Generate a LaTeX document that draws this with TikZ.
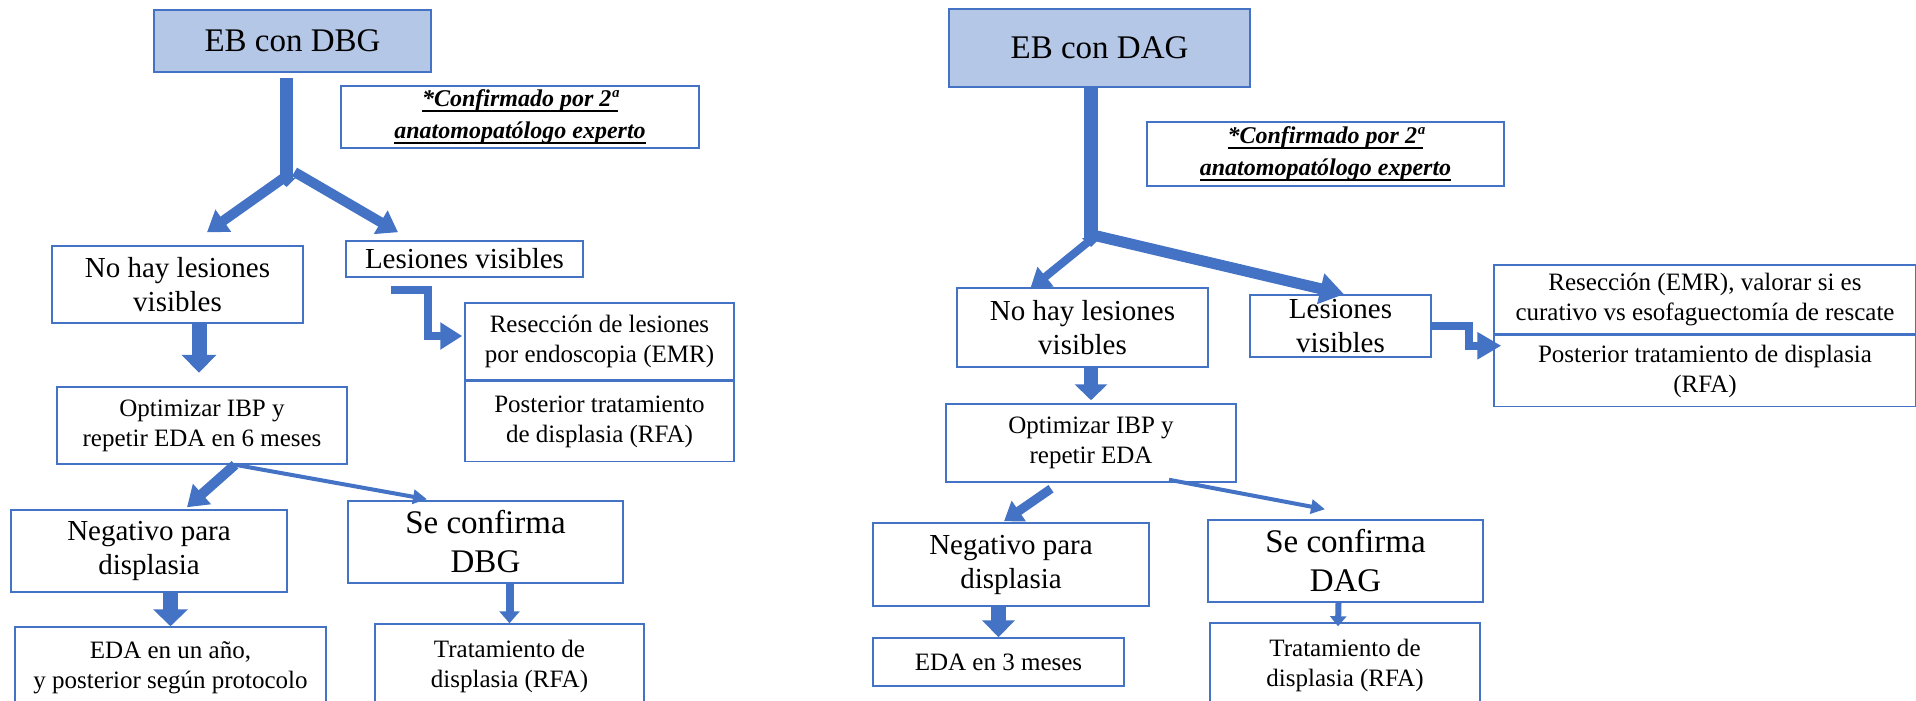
\documentclass[tikz,border=0pt]{standalone}
\usepackage{fontspec}
\setmainfont{Liberation Serif}
\usetikzlibrary{arrows.meta,positioning}
\definecolor{azul}{HTML}{4472C4}
\definecolor{celeste}{HTML}{B4C7E7}
\newcommand{\subrayar}[1]{\setbox0\hbox{#1}\rlap{\rule[-6pt]{\wd0}{2pt}}\box0}

\begin{document}
\begin{tikzpicture}[x=1pt,y=-1pt,every node/.style={align=center,inner sep=0pt},caja/.style={draw=azul,line width=1.5pt,fill=white},titulo/.style={caja,fill=celeste},grande/.style={font=\fontsize{33}{39}\selectfont},medio/.style={font=\fontsize{29}{34}\selectfont},chico/.style={font=\fontsize{25}{30}\selectfont},nota/.style={caja,font=\fontsize{24}{32}\selectfont\bfseries\itshape},flecha/.style n args={3}{draw=azul,line width=#1,-{Triangle[width=#2,length=#3]}}]
\useasboundingbox (0,0) rectangle (1916,701);
\node[titulo,grande,minimum width=277pt,minimum height=62pt] (ebdbg) at (292.5,41) {EB con DBG};
\node[nota,minimum width=358pt,minimum height=62pt] (conf1) at (520,117) {\subrayar{*Confirmado por 2ª}\\\subrayar{anatomopatólogo experto}};
\node[caja,medio,minimum width=251pt,minimum height=77pt] (nohay1) at (177.5,284.5) {No hay lesiones\\visibles};
\node[caja,medio,minimum width=237pt,minimum height=36pt] (lesion1) at (464.5,259) {Lesiones visibles};
\node[caja,chico,minimum width=269pt,minimum height=77pt] (resec1) at (599.5,341.5) {Resección de lesiones\\por endoscopia (EMR)};
\node[caja,chico,minimum width=269pt,minimum height=80pt,below=0pt of resec1] (post1) {Posterior tratamiento\\de displasia (RFA)};
\node[caja,chico,minimum width=290pt,minimum height=77pt] (optim1) at (202,425.5) {Optimizar IBP y\\repetir EDA en 6 meses};
\node[caja,medio,minimum width=276pt,minimum height=82pt] (neg1) at (149,551) {Negativo para\\displasia};
\node[caja,grande,minimum width=275pt,minimum height=82pt] (dbg1) at (485.5,542) {Se confirma\\DBG};
\node[caja,chico,minimum width=311pt,minimum height=82pt] (eda1) at (170.5,668) {EDA en un año,\\y posterior según protocolo};
\node[caja,chico,minimum width=269pt,minimum height=84pt] (trat1) at (509.5,666) {Tratamiento de\\displasia (RFA)};
\node[titulo,grande,minimum width=301pt,minimum height=78pt] (ebdag) at (1099.5,48) {EB con DAG};
\node[nota,minimum width=357pt,minimum height=64pt] (conf2) at (1325.5,154) {\subrayar{*Confirmado por 2ª}\\\subrayar{anatomopatólogo experto}};
\node[caja,medio,minimum width=251pt,minimum height=79pt] (nohay2) at (1082.5,327.5) {No hay lesiones\\visibles};
\node[caja,medio,minimum width=181pt,minimum height=62pt] (lesion2) at (1340.5,326) {Lesiones\\visibles};
\node[caja,chico,minimum width=422pt,minimum height=69pt] (resec2) at (1705,299.5) {Resección (EMR), valorar si es\\curativo vs esofaguectomía de rescate};
\node[caja,chico,minimum width=422pt,minimum height=71pt,below=0pt of resec2] (post2) {Posterior tratamiento de displasia\\(RFA)};
\node[caja,chico,minimum width=290pt,minimum height=78pt] (optim2) at (1091,443) {Optimizar IBP y\\repetir EDA};
\node[caja,medio,minimum width=276pt,minimum height=83pt] (neg2) at (1011,564.5) {Negativo para\\displasia};
\node[caja,grande,minimum width=275pt,minimum height=82pt] (dag2) at (1345.5,561) {Se confirma\\DAG};
\node[caja,chico,minimum width=251pt,minimum height=48pt] (eda2) at (998.5,662) {EDA en 3 meses};
\node[caja,chico,minimum width=270pt,minimum height=84pt] (trat2) at (1345,665) {Tratamiento de\\displasia (RFA)};
\coordinate (bif1) at (286.5,187); \coordinate (bif2) at (1091,247);
\draw[flecha={13pt}{18pt}{9pt}] (ebdbg.south -| bif1) ++(0,5) -- (bif1);
\draw[flecha={10pt}{26pt}{20pt}] ([yshift=11pt]bif1) -- ([xshift=29.5pt,yshift=13pt]nohay1.north);
\draw[flecha={10pt}{26pt}{20pt}] ([xshift=8pt,yshift=15pt]bif1) -- ([xshift=-66.5pt,yshift=8pt]lesion1.north);
\draw[flecha={8pt}{26pt}{22pt}] ([xshift=-73.5pt,yshift=-12pt]lesion1.south) -- ++(37,0) |- ([xshift=-2pt,yshift=5.5pt]resec1.west);
\draw[flecha={15pt}{34pt}{18pt}] ([xshift=21.5pt]nohay1.south) -- ++(0,49);
\draw[flecha={10pt}{26pt}{20pt}] ([xshift=33pt]optim1.south) -- ([xshift=38pt,yshift=2pt]neg1.north);
\draw[flecha={4pt}{14pt}{14pt}] ([xshift=33pt]optim1.south) -- ([xshift=-58.5pt,yshift=1pt]dbg1.north);
\draw[flecha={15pt}{34pt}{17pt}] (eda1.north |- neg1.south) -- (eda1.north);
\draw[flecha={8pt}{20pt}{12pt}] (trat1.north |- dbg1.south) -- (trat1.north);
\draw[flecha={14pt}{18pt}{9pt}] (ebdag.south -| bif2) -- (bif2);
\draw[flecha={8pt}{24pt}{20pt}] ([xshift=2pt,yshift=9pt]bif2) -- ([xshift=-52.5pt,yshift=-2pt]nohay2.north);
\draw[flecha={11pt}{30pt}{24pt}] ([xshift=6pt,yshift=11pt]bif2) -- ([xshift=3.5pt]lesion2.north);
\draw[flecha={8pt}{26pt}{24pt}] (lesion2.east) -- ++(37,0) |- ([xshift=8pt,yshift=-11pt]resec2.south west);
\draw[flecha={14pt}{32pt}{16pt}] (nohay2.south -| optim2.north) -- ([yshift=3pt]optim2.north);
\draw[flecha={9pt}{24pt}{18pt}] ([xshift=-40pt,yshift=-6pt]optim2.south) -- ([xshift=-7pt,yshift=1pt]neg2.north);
\draw[flecha={4pt}{14pt}{14pt}] ([xshift=78pt,yshift=3pt]optim2.south) -- ([xshift=-20.5pt,yshift=10pt]dag2.north);
\draw[flecha={15pt}{32pt}{17pt}] (eda2.north |- neg2.south) -- (eda2.north);
\draw[flecha={6pt}{16pt}{10pt}] ([xshift=-7pt]dag2.south) -- ([xshift=-7pt,yshift=-4pt]trat2.north);
\end{tikzpicture}
\end{document}
